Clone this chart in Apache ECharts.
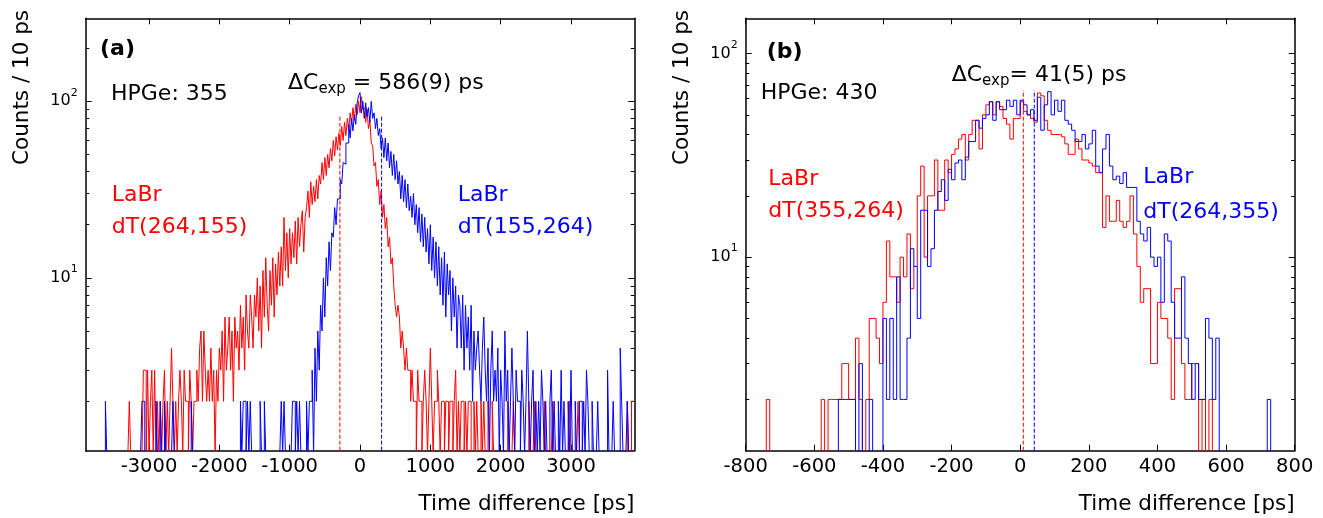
<!DOCTYPE html>
<html>
<head>
<meta charset="utf-8">
<title>LaBr time difference</title>
<script src="https://cdn.jsdelivr.net/npm/echarts@6/dist/echarts.min.js"></script>
<style>
  html, body { margin: 0; padding: 0; background: #fff; }
  #chart { width: 1323px; height: 518px; }
</style>
</head>
<body>
<div id="chart"></div>
<script>
// panel (a): counts, one entry per 20 ps starting at -3900 ps
var aStart = -3900;
var aStep = 20;
var aRed = [
  1,1,1,1,1,1,1,1,1,1,1,1,1,1,1,1,1,1,1,1,1,1,1,1,1,1,1,1,1,1,
  1,2,1,1,1,1,1,1,1,1,1,3,3,1,3,1,2,3,1,3,1,2,1,2,1,2,3,1,2,1,
  2,4,2,1,2,1,2,3,2,1,3,2,2,1,3,2,1,2,2,3,2,4,5,2,5,3,2,3,2,4,
  2,3,1,3,2,4,3,5,2,6,3,4,6,3,5,2,6,4,5,3,7,4,6,3,8,5,4,8,6,4,
  8,6,10,5,9,4,11,6,13,7,5,11,7,13,6,12,8,14,9,15,9,22,11,18,10,19,12,18,13,21,
  12,22,15,20,24,14,22,25,31,22,35,26,33,27,36,28,38,34,45,36,48,38,50,42,54,46,60,49,63,53,
  66,56,72,60,76,64,80,68,86,74,92,78,96,84,100,86,106,90,92,76,90,70,78,58,56,43,45,33,36,26,
  31,22,26,19,22,15,17,12,13,9,7,6,7,6,4,5,4,3,4,3,3,2,3,2,2,1,3,2,2,1,
  2,3,2,1,2,4,2,1,2,2,3,2,1,2,2,1,2,2,1,2,2,1,2,3,1,2,1,2,2,1,
  2,1,2,2,1,1,2,1,2,1,1,2,1,2,1,1,2,1,1,2,1,1,1,1,1,1,1,1,1,1,
  2,1,1,1,2,1,1,1,1,1,1,1,1,1,1,2,1,1,1,2,1,1,1,1,1,1,2,1,1,1,
  1,1,2,1,1,1,1,1,1,1,1,1,1,1,2,1,1,1,1,1,2,1,1,1,1,1,1,1,1,1,
  1,1,1,1,1,1,1,1,1,1,1,1,1,1,1,1,1,1,1,1,1,1,1,1,1,2,1,1,2,2
];
var aBlue = [
  1,1,1,1,1,1,1,1,1,1,1,1,1,1,2,1,1,1,1,1,1,1,1,1,1,1,1,1,1,1,
  1,1,1,1,1,1,1,1,1,1,2,2,1,1,1,1,1,1,1,1,2,1,1,2,1,1,2,1,1,1,
  1,1,2,1,1,1,1,1,1,1,1,1,1,1,1,2,1,1,1,1,1,1,1,1,1,1,1,1,1,1,
  1,1,1,1,1,1,1,1,1,1,1,1,1,1,1,1,1,1,1,1,2,1,2,2,1,2,1,2,1,1,
  1,1,1,1,2,1,1,2,1,1,1,1,1,1,1,1,1,1,1,2,1,2,1,1,1,1,1,2,2,1,
  2,1,2,1,1,1,1,2,1,2,2,3,1,4,2,5,3,7,5,10,6,13,9,16,11,18,17,25,20,28,
  28,36,34,45,44,58,58,74,62,80,68,84,74,98,108,112,86,100,80,98,82,92,76,100,80,86,70,80,64,70,
  54,62,48,62,46,58,42,52,38,50,36,46,34,40,28,38,27,36,25,34,24,29,22,30,20,26,18,25,16,23,
  15,22,14,19,12,20,11,17,10,16,9,15,8,13,7,14,6,12,8,11,5,10,6,9,4,8,7,4,8,3,
  7,4,6,3,7,2,5,3,4,5,3,2,4,6,3,2,4,1,3,5,2,3,2,4,1,3,2,1,5,2,
  3,1,2,4,2,1,3,2,2,1,3,2,1,2,5,2,1,2,3,1,2,1,2,1,3,2,1,2,1,1,
  2,3,1,2,1,1,2,1,3,1,2,1,1,2,1,3,1,1,2,1,1,2,2,1,2,1,3,2,1,1,
  2,1,1,1,2,1,1,1,1,1,1,3,1,1,1,2,1,1,1,1,4,2,1,1,1,2,1,1,1,1
];
var aCentroids = [-286, 307];
var aCentroidTop = 82;

// panel (b): one entry per 10 ps starting at -800 ps
var bStart = -800;
var bStep = 10;
var bRed = [
  1,1,1,1,1,1,2,1,1,1,1,1,1,1,1,1,1,1,1,1,
  1,1,2,1,2,2,2,2,3,3,2,2,4,2,1,2,5,5,4,3,
  6,12,8,8,6,10,8,13,7,9,20,28,10,20,20,30,17,17,30,26,
  32,34,38,40,30,40,47,47,34,50,56,58,50,58,55,48,45,38,48,48,
  58,52,50,48,46,64,62,47,42,40,40,40,39,36,32,32,38,34,30,30,
  29,28,26,26,14,20,15,15,19,15,14,15,20,13,9,6,7,7,3,3,
  6,5,5,4,2,7,7,3,2,2,3,3,1,2,1,2,1,1,1,1,
  1,1,1,1,1,1,1,1,1,1,1,1,1,1,1,1,1,1,1,1
];
var bBlue = [
  1,1,1,1,1,1,1,1,1,1,1,1,1,1,1,1,1,1,1,1,
  1,1,1,1,1,1,1,2,2,2,2,2,1,3,1,1,2,1,1,1,
  5,2,5,2,8,2,2,4,11,9,5,17,17,9,11,17,21,24,19,27,
  24,29,30,24,31,37,37,47,43,48,50,58,47,58,53,53,59,55,59,50,
  59,56,50,53,47,61,42,56,65,50,59,52,59,47,45,42,37,37,40,34,
  36,42,28,26,34,40,28,24,25,23,26,22,22,22,15,13,12,14,10,9,
  10,6,13,12,6,4,4,8,4,3,2,3,2,2,5,4,2,4,1,1,
  1,1,1,1,1,1,1,1,1,1,1,1,2,1,1,1,1,1,1,1
];
var bCentroids = [9, 41];
var bCentroidTop = 66;

// axes
var aXRange = [-3900, 3900];
var bXRange = [-800, 800];
var aXTicks = [-3000, -2000, -1000, 0, 1000, 2000, 3000];
var bXTicks = [-800, -600, -400, -200, 0, 200, 400, 600, 800];
var yMajor = [10, 100];
var aYMinor = [2, 3, 4, 5, 6, 7, 8, 9, 20, 30, 40, 50, 60, 70, 80, 90, 200];
var bYMinor = [2, 3, 4, 5, 6, 7, 8, 9, 20, 30, 40, 50, 60, 70, 80, 90];
var aYRange = [1.05, 295];
var bYRange = [1.12, 149];

var FONT = 'DejaVu Sans';
var RED = '#ff0000';
var BLUE = '#0000ff';
var rectA = { left: 85.7, top: 18.3, width: 548.6, height: 432.4 };
var rectB = { left: 745.7, top: 18.3, width: 549, height: 432.4 };

function toSteps(start, step, counts) {
  var pts = counts.map(function (c, i) { return [start + i * step, c]; });
  pts.push([start + counts.length * step, counts[counts.length - 1]]);
  return pts;
}

function gridAt(rect) {
  return Object.assign({ containLabel: false, outerBoundsMode: 'none' }, rect);
}

function xAxes(gi, range, ticks) {
  var base = {
    type: 'value', gridIndex: gi, min: range[0], max: range[1],
    splitLine: { show: false },
    axisLine: { onZero: false, lineStyle: { color: '#000', width: 1.5 } },
    axisTick: { inside: true, length: 6, customValues: ticks, lineStyle: { color: '#000', width: 1 } }
  };
  return [
    Object.assign({}, base, {
      position: 'bottom',
      axisLabel: {
        customValues: ticks, color: '#000', fontFamily: FONT, fontSize: 19.5, margin: 6,
        formatter: function (v) { return String(v); }
      }
    }),
    Object.assign({}, base, { position: 'top', axisLabel: { show: false } })
  ];
}

// major ticks, spines and labels
function yAxes(gi, range) {
  var base = {
    type: 'log', logBase: 10, gridIndex: gi, min: range[0], max: range[1],
    splitLine: { show: false },
    axisLine: { show: true, onZero: false, lineStyle: { color: '#000', width: 1.5 } },
    axisTick: { inside: true, length: 6, customValues: yMajor, lineStyle: { color: '#000', width: 1 } }
  };
  return [
    Object.assign({}, base, {
      position: 'left',
      axisLabel: {
        customValues: yMajor, margin: 8,
        formatter: function (v) { return '{b|10}{s|' + Math.round(Math.log10(v)) + '}'; },
        rich: {
          b: { fontFamily: FONT, fontSize: 16, lineHeight: 28, verticalAlign: 'middle', color: '#000' },
          s: { fontFamily: FONT, fontSize: 11, lineHeight: 12, verticalAlign: 'top', color: '#000' }
        }
      }
    }),
    Object.assign({}, base, { position: 'right', axisLabel: { show: false } })
  ];
}

// a second grid over the same rectangle carries the minor ticks
function minorAxes(gi, xRange, yRange, minor) {
  var y = {
    type: 'log', logBase: 10, gridIndex: gi, min: yRange[0], max: yRange[1],
    splitLine: { show: false }, axisLabel: { show: false },
    axisLine: { show: false, onZero: false },
    axisTick: { inside: true, length: 3.5, customValues: minor, lineStyle: { color: '#000', width: 1 } }
  };
  return {
    x: { type: 'value', gridIndex: gi, min: xRange[0], max: xRange[1], show: false },
    y: [Object.assign({}, y, { position: 'left' }), Object.assign({}, y, { position: 'right' })]
  };
}

function hist(data, color, xi, yi) {
  return {
    type: 'line', xAxisIndex: xi, yAxisIndex: yi, data: data,
    step: 'end', symbol: 'none', clip: true, silent: true, z: 3,
    itemStyle: { color: color },
    lineStyle: { color: color, width: 1 }
  };
}

function centroid(x, bottom, top, color, xi, yi) {
  return {
    type: 'line', xAxisIndex: xi, yAxisIndex: yi, data: [[x, bottom], [x, top]],
    symbol: 'none', silent: true, z: 4,
    itemStyle: { color: color },
    lineStyle: { color: color, width: 1, type: [4, 2] }
  };
}

function label(text, x, y, color, extra) {
  return {
    type: 'text', x: x, y: y, silent: true,
    style: Object.assign({
      text: text, fill: color || '#000', fontFamily: FONT, fontSize: 22,
      align: 'left', verticalAlign: 'middle'
    }, extra || {})
  };
}

function yTitle(x) {
  var t = label('Counts / 10 ps', x, 10, '#000', { fontSize: 21.5, align: 'right' });
  t.rotation = Math.PI / 2;
  return t;
}

function deltaC(text, x, y) {
  return {
    type: 'text', x: x, y: y, silent: true,
    style: {
      text: text, fill: '#000', align: 'left', verticalAlign: 'top',
      rich: {
        n: { fontFamily: FONT, fontSize: 22, lineHeight: 26, verticalAlign: 'middle', fill: '#000' },
        s: { fontFamily: FONT, fontSize: 15, lineHeight: 15, verticalAlign: 'bottom', fill: '#000' }
      }
    }
  };
}

var minorA = minorAxes(2, aXRange, aYRange, aYMinor);
var minorB = minorAxes(3, bXRange, bYRange, bYMinor);

var chart = echarts.init(document.getElementById('chart'), null, { renderer: 'canvas' });
chart.setOption({
  animation: false,
  backgroundColor: '#fff',
  textStyle: { fontFamily: FONT },
  grid: [gridAt(rectA), gridAt(rectB), gridAt(rectA), gridAt(rectB)],
  // x: 0,1 panel a | 2,3 panel b | 4,5 minor-tick grids
  xAxis: xAxes(0, aXRange, aXTicks).concat(xAxes(1, bXRange, bXTicks), [minorA.x, minorB.x]),
  // y: 0,1 panel a | 2,3 panel b | 4-7 minor-tick grids
  yAxis: yAxes(0, aYRange).concat(yAxes(1, bYRange), minorA.y, minorB.y),
  series: [
    hist(toSteps(aStart, aStep, aRed), RED, 0, 0),
    hist(toSteps(aStart, aStep, aBlue), BLUE, 0, 0),
    centroid(aCentroids[0], aYRange[0], aCentroidTop, RED, 0, 0),
    centroid(aCentroids[1], aYRange[0], aCentroidTop, BLUE, 0, 0),
    hist(toSteps(bStart, bStep, bRed), RED, 2, 2),
    hist(toSteps(bStart, bStep, bBlue), BLUE, 2, 2),
    centroid(bCentroids[0], bYRange[0], bCentroidTop, RED, 2, 2),
    centroid(bCentroids[1], bYRange[0], bCentroidTop, BLUE, 2, 2)
  ],
  graphic: [
    // panel (a)
    label('(a)', 100, 49.5, '#000', { fontWeight: 'bold' }),
    label('HPGe: 355', 111, 94),
    deltaC('{n|ΔC}{s|exp}{n| = 586(9) ps}', 288, 70.5),
    label('LaBr', 111.7, 195.5, RED),
    label('dT(264,155)', 111.7, 227.3, RED),
    label('LaBr', 457.7, 195.5, BLUE),
    label('dT(155,264)', 457.7, 227.3, BLUE),
    yTitle(22),
    label('Time difference [ps]', 634.3, 504.4, '#000', { fontSize: 21.5, align: 'right' }),
    // panel (b)
    label('(b)', 766.7, 52, '#000', { fontWeight: 'bold' }),
    label('HPGe: 430', 760.7, 93),
    deltaC('{n|ΔC}{s|exp}{n|= 41(5) ps}', 951.7, 62.2),
    label('LaBr', 768.3, 179, RED),
    label('dT(355,264)', 768.3, 211.2, RED),
    label('LaBr', 1143.3, 177.7, BLUE),
    label('dT(264,355)', 1143.3, 211.8, BLUE),
    yTitle(682),
    label('Time difference [ps]', 1294.7, 504.4, '#000', { fontSize: 21.5, align: 'right' })
  ]
});
</script>
</body>
</html>
